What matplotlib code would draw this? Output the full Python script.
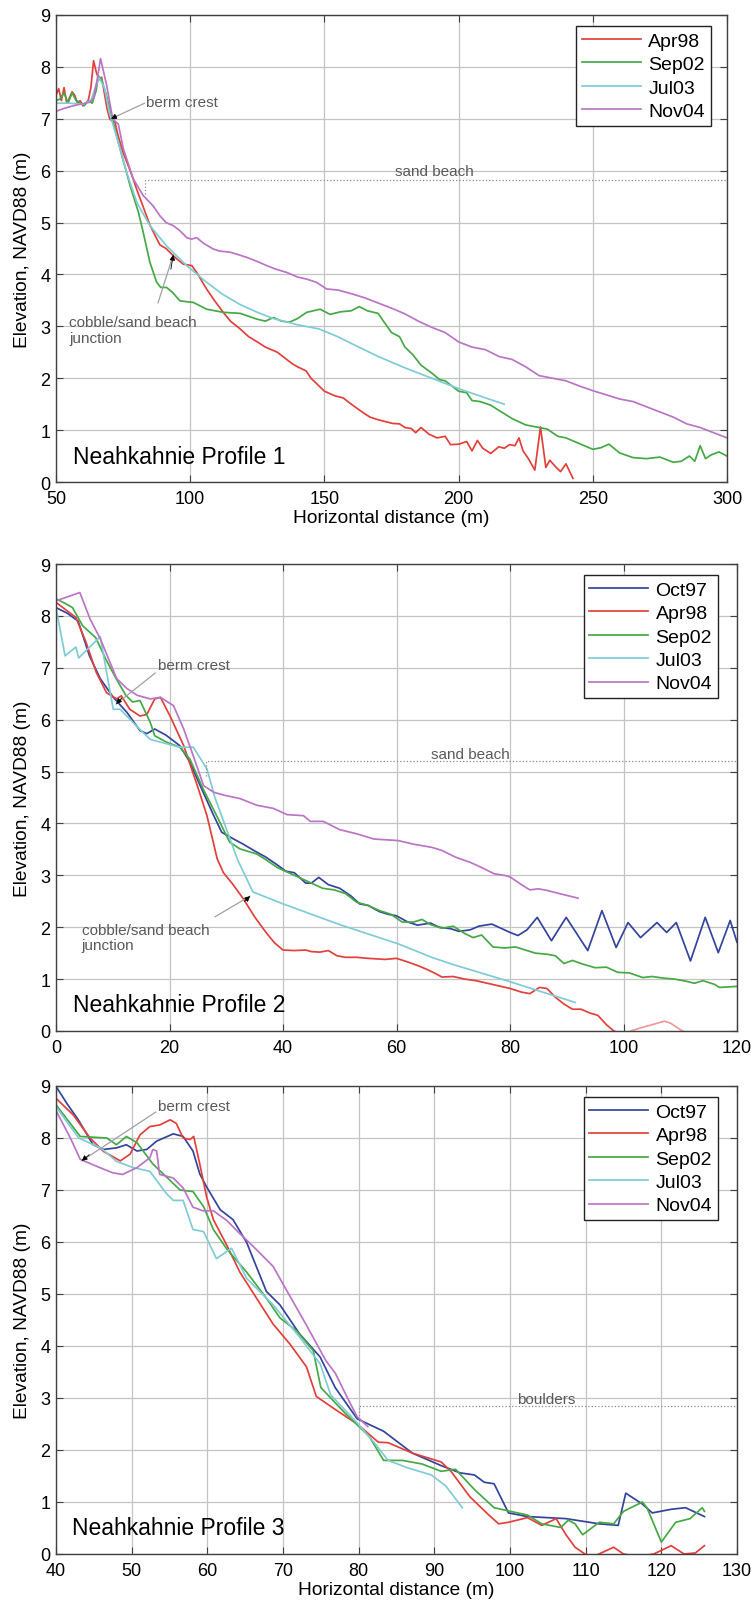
import matplotlib
matplotlib.use('Agg')
import matplotlib.pyplot as plt

plt.rcParams['font.family'] = ['Liberation Sans', 'DejaVu Sans']

# colours of the surveys
c_oct97 = '#34449c'
c_apr98 = '#e2403c'
c_sep02 = '#46a846'
c_jul03 = '#80ccd4'
c_nov04 = '#bb74c6'

# ---------------- Profile 1 ----------------
p1_apr98_x = [50, 51, 52, 53, 54, 55, 56, 57, 58, 59, 60, 61, 62, 63, 64, 65, 66, 67, 68, 69, 70, 71, 72, 73, 75,
              78, 80, 82.5, 85, 88.7, 91, 93.7, 95, 97.4, 100.6, 102.4, 106.1, 109, 112.3, 115, 118.6, 121.8, 125, 128,
              132.5, 135, 138, 140, 143.2, 145, 148, 150, 153.9, 157, 160, 164.6, 167, 170, 175.3, 178, 180, 182.4,
              184, 186, 189, 192, 195, 197, 200.2, 203, 205, 207, 209, 212, 215, 217, 219, 221, 222.5, 224, 226,
              228.4, 230.5, 232.5, 234, 236, 238, 240, 242.6]
p1_apr98_y = [7.45, 7.58, 7.35, 7.6, 7.3, 7.4, 7.52, 7.45, 7.3, 7.35, 7.25, 7.3, 7.35, 7.6, 8.12, 7.9, 7.75, 7.8, 7.5, 7.2,
              7.0, 6.95, 6.93, 6.7, 6.35, 5.95, 5.65, 5.3, 4.95, 4.57, 4.5, 4.36, 4.3, 4.2, 4.17, 4.04, 3.72, 3.5, 3.27,
              3.1, 2.95, 2.8, 2.7, 2.6, 2.5, 2.4, 2.28, 2.22, 2.14, 2.0, 1.85, 1.75, 1.66, 1.62, 1.5, 1.33, 1.25,
              1.2, 1.13, 1.12, 1.05, 1.03, 0.95, 1.05, 0.92, 0.85, 0.88, 0.72, 0.73, 0.78, 0.6, 0.8, 0.65, 0.55, 0.68,
              0.65, 0.72, 0.7, 0.85, 0.6, 0.45, 0.23, 1.06, 0.28, 0.42, 0.3, 0.2, 0.35, 0.07]

p1_sep02_x = [50, 51.5, 53, 54.5, 56, 57.5, 58.9, 60.5, 62, 63.5, 65, 65.8, 67, 68.5, 70.1, 73.2, 77.6, 80.7, 82.5, 85,
              87.5, 89, 91.2, 93.5, 96.2, 101.2, 106.1, 112.3, 118.6, 124.8, 128, 131, 134, 137, 140, 143.4, 148.4,
              152.1, 156, 160, 163, 166, 170, 172, 175, 178, 180, 183, 186, 190, 193, 195, 198, 200, 203, 205, 208,
              212, 215, 220, 225, 230, 233, 237, 240, 245, 250, 253, 256, 260, 265, 270, 275, 280, 283, 286, 288, 290,
              292, 294, 297, 300]
p1_sep02_y = [7.35, 7.38, 7.5, 7.3, 7.5, 7.35, 7.32, 7.25, 7.35, 7.3, 7.55, 7.83, 7.75, 7.5, 7.19, 6.55, 5.71, 5.2, 4.81,
              4.23, 3.85, 3.75, 3.75, 3.65, 3.49, 3.46, 3.33, 3.27, 3.25, 3.14, 3.1, 3.17, 3.1, 3.08, 3.15, 3.27, 3.33,
              3.23, 3.28, 3.3, 3.38, 3.3, 3.25, 3.1, 2.88, 2.8, 2.6, 2.45, 2.25, 2.1, 1.97, 1.95, 1.83, 1.75, 1.72, 1.57,
              1.55, 1.48, 1.38, 1.22, 1.1, 1.05, 1.02, 0.88, 0.85, 0.74, 0.63, 0.66, 0.73, 0.56, 0.47, 0.45, 0.48, 0.38,
              0.4, 0.5, 0.4, 0.7, 0.45, 0.52, 0.58, 0.5]

p1_jul03_x = [50, 55, 60, 63, 66, 68, 70, 73.2, 76.3, 80.1, 85, 91.2, 98.7, 106.1, 112, 118.6, 125, 131, 140, 148,
              155, 162, 170, 180, 190, 200, 210, 217]
p1_jul03_y = [7.3, 7.3, 7.28, 7.35, 7.8, 7.6, 7.1, 6.55, 5.97, 5.39, 4.94, 4.55, 4.17, 3.85, 3.62, 3.42, 3.27, 3.15,
              3.03, 2.95, 2.8, 2.62, 2.42, 2.2, 2.0, 1.8, 1.62, 1.5]

p1_nov04_x = [50.3, 53, 56.4, 59, 62.6, 64, 65.5, 66.6, 68.9, 70.8, 72, 73.2, 75.1, 78.8, 82.5, 86.2, 88.7, 91, 93.7,
              96, 98.7, 100.5, 102.4, 105, 108.6, 111, 114.8, 118, 121, 125, 128.5, 132, 135.9, 140, 143.4, 147, 150.8,
              155, 160, 165, 170, 175, 180, 185, 190, 195, 200, 205, 210, 215, 220, 225, 230, 235, 240, 245, 250, 255,
              260, 265, 270, 275, 280, 285, 290, 295, 300]
p1_nov04_y = [7.15, 7.2, 7.25, 7.28, 7.32, 7.4, 7.8, 8.16, 7.64, 7.09, 6.95, 6.9, 6.42, 5.84, 5.52, 5.32, 5.13, 5.0, 4.94,
              4.85, 4.71, 4.68, 4.71, 4.6, 4.49, 4.45, 4.43, 4.38, 4.33, 4.25, 4.17, 4.1, 4.04, 3.95, 3.91, 3.85, 3.72,
              3.7, 3.63, 3.55, 3.45, 3.35, 3.24, 3.1, 2.98, 2.88, 2.7, 2.6, 2.55, 2.42, 2.36, 2.22, 2.05, 2.0, 1.95,
              1.85, 1.76, 1.68, 1.6, 1.55, 1.45, 1.35, 1.25, 1.12, 1.05, 0.95, 0.85]

# ---------------- Profile 2 ----------------
p2_oct97_x = [0, 2, 3.9, 5.9, 7.8, 10.1, 12.5, 14.8, 16, 17.4, 19.4, 21.8, 23.6, 25.4, 27.8, 29.2, 31.3, 33, 35, 37,
              39, 40.5, 42, 44, 45, 46.3, 48, 50, 52, 53.5, 55, 57, 58.5, 60, 62, 63.7, 66, 67.5, 69.6, 71, 73, 74.5,
              76.8, 78, 80, 81.4, 83, 84.8, 87.3, 89.9, 93.7, 96.2, 98.7, 100.8, 103, 105.9, 107.6, 109.3, 111.8,
              114.4, 116.7, 118.8, 120]
p2_oct97_y = [8.16, 8.05, 7.9, 7.23, 6.79, 6.43, 6.14, 5.79, 5.73, 5.82, 5.7, 5.5, 5.18, 4.73, 4.15, 3.83, 3.7, 3.6,
              3.47, 3.35, 3.2, 3.08, 3.05, 2.85, 2.85, 2.96, 2.82, 2.75, 2.6, 2.45, 2.42, 2.3, 2.25, 2.22, 2.1, 2.04,
              2.08, 2.0, 1.97, 1.92, 1.95, 2.02, 2.06, 2.0, 1.9, 1.84, 1.95, 2.19, 1.74, 2.19, 1.55, 2.32, 1.61, 2.09,
              1.8, 2.09, 1.9, 2.09, 1.35, 2.19, 1.51, 2.13, 1.71]

p2_apr98_x = [0, 3.5, 5.3, 7.1, 8.9, 10.7, 11.5, 13, 14.8, 16, 17.4, 18.4, 20.1, 22.5, 24.9, 26.6, 28.4, 29.5, 31, 33,
              35, 37, 38.5, 40, 42, 44, 45, 46.5, 48, 49.5, 51, 53, 55, 58, 60, 62, 64, 65.5, 67, 68, 70, 72, 74, 76,
              78, 80, 82, 83.5, 85.2, 86.5, 88, 89.5, 91, 92.5, 94, 95.5, 97, 98.3, 99.5]
p2_apr98_y = [8.26, 7.97, 7.49, 6.91, 6.52, 6.4, 6.46, 6.2, 6.07, 6.1, 6.4, 6.43, 6.07, 5.5, 4.73, 4.15, 3.32, 3.05,
              2.85, 2.55, 2.2, 1.9, 1.7, 1.56, 1.55, 1.56, 1.53, 1.52, 1.55, 1.45, 1.42, 1.42, 1.4, 1.38, 1.4, 1.33,
              1.25, 1.18, 1.1, 1.04, 1.05, 1.0, 0.97, 0.92, 0.87, 0.82, 0.75, 0.72, 0.84, 0.82, 0.65, 0.52, 0.42, 0.42,
              0.35, 0.3, 0.12, 0.0, -0.05]
p2_apr98b_x = [100.5, 101.3, 103, 105, 107.2, 108.3, 110.1, 111]
p2_apr98b_y = [-0.05, 0.0, 0.06, 0.12, 0.19, 0.15, 0.02, -0.03]

p2_sep02_x = [0, 1.8, 2.9, 4.7, 7.0, 8.8, 10.6, 12.3, 13.5, 14.8, 16.6, 17.4, 19.4, 21.8, 23.6, 25.9, 28.3, 30.6,
              32.4, 35.4, 37, 39, 41, 43, 45, 47, 49, 51, 53, 55, 57, 59, 61, 63, 64.5, 66, 68, 70, 72, 73.5, 75, 77,
              79, 81, 83, 84.5, 86.5, 88, 89.5, 91, 92.8, 95, 97, 99, 101, 103.4, 105, 107, 109, 111, 112.5, 114, 116,
              116.9, 118.5, 120]
p2_sep02_y = [8.33, 8.23, 8.16, 7.81, 7.58, 7.16, 6.79, 6.47, 6.34, 6.37, 5.95, 5.69, 5.57, 5.47, 5.24, 4.67, 4.15,
              3.64, 3.51, 3.41, 3.3, 3.15, 3.05, 2.95, 2.85, 2.75, 2.72, 2.65, 2.48, 2.42, 2.32, 2.25, 2.1, 2.1, 2.15,
              2.05, 1.98, 2.02, 1.88, 1.8, 1.85, 1.62, 1.6, 1.62, 1.55, 1.5, 1.48, 1.45, 1.3, 1.36, 1.29, 1.22, 1.23,
              1.13, 1.12, 1.03, 1.05, 1.02, 1.0, 0.96, 0.92, 0.97, 0.9, 0.84, 0.85, 0.86]

p2_jul03_x = [0, 1.6, 3.5, 4.0, 7.8, 9.8, 10.1, 11.3, 14.8, 16.6, 20.7, 21.9, 24.2, 26.6, 28, 30, 32, 34.7, 40, 50,
              60.3, 66.2, 70, 80, 91.5]
p2_jul03_y = [8.16, 7.23, 7.4, 7.19, 7.6, 6.37, 6.2, 6.2, 5.81, 5.62, 5.5, 5.47, 5.47, 5.05, 4.5, 3.9, 3.3, 2.68, 2.45,
              2.05, 1.68, 1.42, 1.28, 0.95, 0.55]

p2_nov04_x = [0, 4.2, 6.0, 7.8, 10.7, 12.5, 14.3, 16.6, 18.4, 20.7, 22.5, 24.2, 26, 27.8, 29.8, 32.4, 35.4, 38.3,
              40.7, 43.6, 44.8, 47.1, 50, 53, 56, 60.3, 63, 66.2, 68, 70.4, 73, 75, 77.2, 79, 80, 82.3, 83.5, 85, 86.5,
              89, 92]
p2_nov04_y = [8.29, 8.45, 7.94, 7.56, 6.79, 6.6, 6.47, 6.4, 6.43, 6.27, 5.82, 5.3, 4.73, 4.6, 4.54, 4.48, 4.35, 4.29,
              4.17, 4.15, 4.04, 4.04, 3.88, 3.8, 3.7, 3.67, 3.6, 3.54, 3.48, 3.35, 3.25, 3.15, 3.03, 3.0, 2.97, 2.8,
              2.72, 2.74, 2.71, 2.64, 2.56]

# ---------------- Profile 3 ----------------
p3_oct97_x = [40.1, 41.5, 42.9, 44.9, 46.3, 48.0, 49.3, 50.7, 52.0, 53.3, 55.5, 56.8, 58.1, 59.0, 59.9, 61.7, 63.4,
              65.2, 67.8, 69.6, 72.2, 74.9, 76.9, 79.8, 83.3, 87.1, 90.9, 93.4, 95.3, 96.6, 97.9, 99.8, 102.3, 107.4,
              111.8, 114.3, 115.3, 117.5, 118.8, 121.3, 123.2, 125.7]
p3_oct97_y = [8.97, 8.65, 8.36, 7.87, 7.78, 7.81, 7.87, 7.75, 7.78, 7.94, 8.08, 8.03, 7.75, 7.31, 7.06, 6.62, 6.43,
              5.99, 5.05, 4.79, 4.23, 3.79, 3.2, 2.6, 2.36, 1.94, 1.7, 1.56, 1.52, 1.38, 1.35, 0.79, 0.72, 0.68, 0.58,
              0.55, 1.17, 0.96, 0.79, 0.86, 0.89, 0.72]

p3_apr98_x = [40.1, 42.3, 44.5, 46.3, 48.5, 49.8, 51.1, 52.4, 53.7, 55.1, 55.9, 56.8, 57.7, 58.2, 59.0, 59.9, 60.8,
              62.6, 64.3, 66.5, 68.7, 70.9, 73.1, 74.4, 76.9, 79.8, 82.6, 83.9, 87.1, 90.9, 92.2, 94.7, 97.2, 98.5,
              99.8, 102.3, 104.2, 106.1, 107.4, 108.6, 109.9, 111, 112.5, 113.7, 115, 117, 119, 121.3, 123, 124.5,
              125.7]
p3_apr98_y = [8.75, 8.44, 8.0, 7.74, 7.56, 7.69, 8.06, 8.22, 8.25, 8.35, 8.28, 8.0, 7.97, 8.03, 7.5, 6.87, 6.43, 5.93,
              5.42, 4.92, 4.42, 4.04, 3.6, 3.03, 2.78, 2.5, 2.15, 2.14, 1.94, 1.77, 1.59, 1.1, 0.75, 0.58, 0.61, 0.7,
              0.55, 0.68, 0.37, 0.13, 0.0, -0.05, 0.05, 0.13, 0.0, -0.05, 0.0, 0.16, 0.0, 0.02, 0.16]

p3_sep02_x = [40.1, 43.2, 46.7, 48.0, 49.3, 50.7, 52.8, 54.6, 56.4, 58.1, 59.5, 60.8, 62.6, 65.2, 67.8, 69.6, 71.8,
              74.0, 75.0, 78.2, 81.4, 83.3, 85.8, 88.4, 90.9, 92.8, 95.3, 97.9, 101, 102.3, 104.2, 106.7, 107.7, 108.6,
              109.6, 111.8, 113.7, 115, 117.5, 118.1, 120, 121.9, 123.8, 125.4, 125.7]
p3_sep02_y = [8.62, 8.03, 8.0, 7.87, 8.03, 7.91, 7.5, 7.25, 7.0, 6.97, 6.68, 6.24, 5.86, 5.42, 4.92, 4.54, 4.29, 3.91,
              3.2, 2.71, 2.26, 1.8, 1.8, 1.73, 1.59, 1.63, 1.24, 0.89, 0.79, 0.75, 0.58, 0.51, 0.65, 0.58, 0.37, 0.61,
              0.58, 0.82, 1.0, 0.89, 0.23, 0.61, 0.68, 0.89, 0.82]

p3_jul03_x = [40, 43, 46, 48, 50.2, 52.4, 54.6, 55.5, 56.8, 58.1, 59.5, 61.2, 63.2, 65.2, 68.7, 72.2, 74.9, 76.3, 79.5,
              82, 83.9, 86.4, 89.6, 91.5, 93.7]
p3_jul03_y = [8.6, 8.0, 7.8, 7.55, 7.43, 7.36, 6.93, 6.8, 6.8, 6.24, 6.2, 5.68, 5.88, 5.3, 4.79, 4.17, 3.66, 3.06, 2.57,
              2.15, 1.8, 1.66, 1.52, 1.31, 0.89]

p3_nov04_x = [40.1, 41.9, 43.2, 45.8, 47.5, 48.8, 50.7, 52.4, 52.8, 53.3, 53.7, 55.5, 56.8, 58.1, 59.4, 60.8, 62.6,
              64.3, 66.1, 68.7, 70.4, 73.1, 75.7, 76.9, 78.8, 79.8, 81.2]
p3_nov04_y = [8.5, 8.0, 7.59, 7.43, 7.33, 7.3, 7.43, 7.62, 7.78, 7.75, 7.3, 7.23, 7.04, 6.67, 6.6, 6.6, 6.41, 6.16,
              5.91, 5.53, 5.09, 4.4, 3.71, 3.48, 2.92, 2.64, 2.45]

ann_gray = '#5a5a5a'
line_gray = '#a0a0a0'
ann_size = 11


def style_axes(ax, xmin, xmax, xstep):
    ax.set_xlim(xmin, xmax)
    ax.set_ylim(0, 9)
    ax.set_xticks(range(xmin, xmax + 1, xstep))
    ax.set_yticks(range(0, 10))
    ax.grid(True, color='#c4c4c4', lw=0.9)
    ax.set_axisbelow(True)
    ax.tick_params(direction='in', top=True, right=True, labelsize=13, length=5, color='#404040')
    ax.tick_params(axis='x', pad=6)
    ax.tick_params(axis='y', pad=4)
    for s in ax.spines.values():
        s.set_color('#404040')
        s.set_linewidth(1.0)
    ax.set_ylabel('Elevation, NAVD88 (m)', fontsize=13.8, labelpad=7)


def arrow(ax, text_xy, tip, back):
    # gray leader line with small black head
    ax.annotate('', xy=tip, xytext=text_xy,
                arrowprops=dict(arrowstyle='-', color=line_gray, lw=0.9, shrinkA=0, shrinkB=0))
    ax.annotate('', xy=tip, xytext=back,
                arrowprops=dict(arrowstyle='-|>', color='black', lw=0.6, mutation_scale=8, shrinkA=0, shrinkB=0))


def legend(ax, anchor):
    lg = ax.legend(loc='upper right', bbox_to_anchor=anchor, borderaxespad=0, fontsize=14,
                   handlelength=3.0, labelspacing=0.3, borderpad=0.3, fancybox=False, framealpha=1,
                   handletextpad=0.4)
    lg.get_frame().set_edgecolor('#222222')
    lg.get_frame().set_linewidth(1.0)


fig = plt.figure(figsize=(7.51, 16.08), dpi=100)
lw = 1.25

# ---- panel 1
ax1 = fig.add_axes([56 / 751, 1 - 483 / 1608, 671 / 751, 467 / 1608])
ax1.plot(p1_apr98_x, p1_apr98_y, color=c_apr98, lw=lw, label='Apr98')
ax1.plot(p1_sep02_x, p1_sep02_y, color=c_sep02, lw=lw, label='Sep02')
ax1.plot(p1_jul03_x, p1_jul03_y, color=c_jul03, lw=lw, label='Jul03')
ax1.plot(p1_nov04_x, p1_nov04_y, color=c_nov04, lw=lw, label='Nov04')
style_axes(ax1, 50, 300, 50)
ax1.set_xlabel('Horizontal distance (m)', fontsize=13.8, labelpad=1)
legend(ax1, (0.976, 0.976))
ax1.plot([83, 83, 300], [5.55, 5.82, 5.82], ls=':', color='#8a8a8a', lw=0.9)
ax1.text(191, 6.0, 'sand beach', fontsize=ann_size, color=ann_gray, ha='center', va='center')
ax1.text(83.5, 7.32, 'berm crest', fontsize=ann_size, color=ann_gray, ha='left', va='center')
arrow(ax1, (83, 7.3), (70.5, 7.0), (72.5, 7.05))
ax1.text(55, 2.93, 'cobble/sand beach\njunction', fontsize=ann_size, color=ann_gray, ha='left', va='center',
         linespacing=1.1)
arrow(ax1, (88, 3.45), (93.7, 4.38), (92.8, 4.1))
ax1.text(56.5, 0.5, 'Neahkahnie Profile 1', fontsize=16.5, ha='left', va='center')

# ---- panel 2
ax2 = fig.add_axes([56 / 751, 1 - 1032 / 1608, 681 / 751, 467 / 1608])
ax2.plot(p2_oct97_x, p2_oct97_y, color=c_oct97, lw=lw, label='Oct97')
ax2.plot(p2_apr98_x, p2_apr98_y, color=c_apr98, lw=lw, label='Apr98')
ax2.plot(p2_apr98b_x, p2_apr98b_y, color='#ee9a9a', lw=lw)
ax2.plot(p2_sep02_x, p2_sep02_y, color=c_sep02, lw=lw, label='Sep02')
ax2.plot(p2_jul03_x, p2_jul03_y, color=c_jul03, lw=lw, label='Jul03')
ax2.plot(p2_nov04_x, p2_nov04_y, color=c_nov04, lw=lw, label='Nov04')
style_axes(ax2, 0, 120, 20)
legend(ax2, (0.972, 0.976))
ax2.plot([26.4, 26.4, 120], [4.92, 5.2, 5.2], ls=':', color='#8a8a8a', lw=0.9)
ax2.text(73, 5.33, 'sand beach', fontsize=ann_size, color=ann_gray, ha='center', va='center')
ax2.text(18, 7.05, 'berm crest', fontsize=ann_size, color=ann_gray, ha='left', va='center')
arrow(ax2, (17.5, 6.9), (10.6, 6.3), (11.6, 6.42))
ax2.text(4.5, 1.8, 'cobble/sand beach\njunction', fontsize=ann_size, color=ann_gray, ha='left', va='center',
         linespacing=1.1)
arrow(ax2, (28, 2.2), (34.2, 2.6), (33.2, 2.5))
ax2.text(3.0, 0.52, 'Neahkahnie Profile 2', fontsize=16.5, ha='left', va='center')

# ---- panel 3
ax3 = fig.add_axes([56 / 751, 1 - 1555 / 1608, 681 / 751, 468 / 1608])
ax3.plot(p3_oct97_x, p3_oct97_y, color=c_oct97, lw=lw, label='Oct97')
ax3.plot(p3_apr98_x, p3_apr98_y, color=c_apr98, lw=lw, label='Apr98')
ax3.plot(p3_sep02_x, p3_sep02_y, color=c_sep02, lw=lw, label='Sep02')
ax3.plot(p3_jul03_x, p3_jul03_y, color=c_jul03, lw=lw, label='Jul03')
ax3.plot(p3_nov04_x, p3_nov04_y, color=c_nov04, lw=lw, label='Nov04')
style_axes(ax3, 40, 130, 10)
ax3.set_xlabel('Horizontal distance (m)', fontsize=13.8, labelpad=1)
legend(ax3, (0.972, 0.976))
ax3.plot([80, 80, 130], [2.6, 2.84, 2.84], ls=':', color='#8a8a8a', lw=0.9)
ax3.text(104.8, 2.98, 'boulders', fontsize=ann_size, color=ann_gray, ha='center', va='center')
ax3.text(53.5, 8.62, 'berm crest', fontsize=ann_size, color=ann_gray, ha='left', va='center')
arrow(ax3, (53.2, 8.5), (43.4, 7.56), (44.4, 7.68))
ax3.text(42.1, 0.51, 'Neahkahnie Profile 3', fontsize=16.5, ha='left', va='center')

fig.savefig('out.png', dpi=100)
